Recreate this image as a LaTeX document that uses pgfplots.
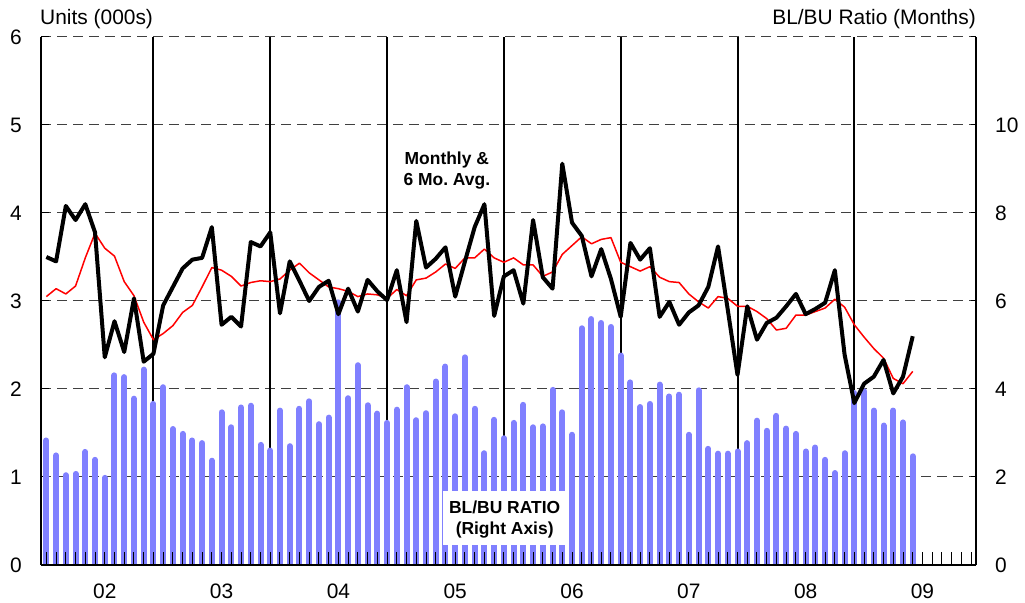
\documentclass[border=0pt]{standalone}
\usepackage{pgfplots}
\pgfplotsset{compat=1.18}
\usepackage{pgfplotstable}
\usepackage{fontspec}
\setmainfont{Liberation Sans}
\definecolor{barblue}{HTML}{8080FF}

\pgfplotstableread{
m v
0 3.50
1 3.45
2 4.08
3 3.92
4 4.10
5 3.78
6 2.36
7 2.77
8 2.42
9 3.03
10 2.31
11 2.40
12 2.95
13 3.16
14 3.37
15 3.47
16 3.49
17 3.84
18 2.73
19 2.82
20 2.71
21 3.67
22 3.62
23 3.78
24 2.86
25 3.45
26 3.23
27 3.00
28 3.16
29 3.23
30 2.85
31 3.14
32 2.88
33 3.24
34 3.11
35 3.01
36 3.35
37 2.76
38 3.91
39 3.38
40 3.48
41 3.61
42 3.05
43 3.45
44 3.84
45 4.10
46 2.83
47 3.28
48 3.35
49 2.97
50 3.92
51 3.27
52 3.14
53 4.56
54 3.89
55 3.74
56 3.28
57 3.59
58 3.25
59 2.82
60 3.66
61 3.47
62 3.60
63 2.82
64 2.99
65 2.73
66 2.87
67 2.95
68 3.16
69 3.62
70 2.90
71 2.16
72 2.94
73 2.56
74 2.75
75 2.81
76 2.94
77 3.08
78 2.85
79 2.91
80 2.98
81 3.35
82 2.39
83 1.84
84 2.06
85 2.14
86 2.33
87 1.95
88 2.14
89 2.60
}\monthly

\pgfplotstableread{
m v
0 3.05
1 3.14
2 3.08
3 3.17
4 3.49
5 3.77
6 3.60
7 3.51
8 3.22
9 3.06
10 2.76
11 2.56
12 2.63
13 2.72
14 2.87
15 2.95
16 3.16
17 3.38
18 3.35
19 3.28
20 3.17
21 3.21
22 3.23
23 3.22
24 3.25
25 3.35
26 3.43
27 3.32
28 3.24
29 3.16
30 3.14
31 3.11
32 3.05
33 3.08
34 3.07
35 3.03
36 3.13
37 3.06
38 3.24
39 3.26
40 3.33
41 3.42
42 3.37
43 3.49
44 3.49
45 3.59
46 3.49
47 3.44
48 3.49
49 3.41
50 3.41
51 3.28
52 3.33
53 3.53
54 3.63
55 3.73
56 3.65
57 3.70
58 3.72
59 3.44
60 3.39
61 3.34
62 3.39
63 3.27
64 3.22
65 3.21
66 3.08
67 2.99
68 2.92
69 3.05
70 3.03
71 2.94
72 2.94
73 2.88
74 2.80
75 2.67
76 2.69
77 2.84
78 2.84
79 2.88
80 2.92
81 3.02
82 2.93
83 2.73
84 2.59
85 2.46
86 2.35
87 2.12
88 2.06
89 2.20
}\avgsix

\pgfplotstableread{
m v
0 2.83
1 2.49
2 2.04
3 2.07
4 2.57
5 2.39
6 1.98
7 4.31
8 4.27
9 3.78
10 4.44
11 3.66
12 4.04
13 3.09
14 2.98
15 2.83
16 2.77
17 2.37
18 3.47
19 3.13
20 3.58
21 3.62
22 2.73
23 2.60
24 3.51
25 2.70
26 3.55
27 3.72
28 3.20
29 3.35
30 5.97
31 3.79
32 4.54
33 3.63
34 3.44
35 3.23
36 3.53
37 4.04
38 3.29
39 3.45
40 4.17
41 4.51
42 3.38
43 4.72
44 3.55
45 2.54
46 3.30
47 2.88
48 3.23
49 3.64
50 3.13
51 3.15
52 3.98
53 3.47
54 2.96
55 5.38
56 5.59
57 5.50
58 5.41
59 4.76
60 4.15
61 3.59
62 3.66
63 4.10
64 3.83
65 3.87
66 2.96
67 3.97
68 2.64
69 2.53
70 2.53
71 2.58
72 2.77
73 3.28
74 3.05
75 3.39
76 3.10
77 2.98
78 2.58
79 2.67
80 2.39
81 2.09
82 2.54
83 3.91
84 3.95
85 3.51
86 3.17
87 3.51
88 3.24
89 2.47
}\ratio

\pgfplotsset{
  base/.style={
    width=935bp, height=528bp, scale only axis,
    xmin=-0.55, xmax=95.5,
    /pgf/number format/assume math mode=true,
    tick label style={font=\fontsize{21}{25}\selectfont},
    axis line style={-},
  },
}

\begin{document}
\frenchspacing
\begin{tikzpicture}
% Layer A: grid, year separators, left ticks
\begin{axis}[base,
  ymin=0, ymax=6,
  axis line style={draw=none},
  xtick=\empty,
  ytick={0,1,...,6},
  ytick pos=left,
  tick align=inside,
  major tick length=8bp,
  tick style={black, line width=1bp},
  yticklabel style={anchor=east, inner sep=0pt, xshift=-19bp},
  ymajorgrids,
  major grid style={black!75, line width=1bp, dash pattern=on 10bp off 6bp},
  extra x ticks={11,23,35,47,59,71,83},
  extra x tick labels={},
  extra x tick style={grid=major, tick style={draw=none},
    major grid style={black, line width=2bp, solid}},
]
\end{axis}
% Layer B: bars on right axis
\begin{axis}[base,
  ymin=0, ymax=12,
  axis x line=none,
  axis y line=right,
  axis line style={-, black, line width=1.5bp},
  ytick={0,2,...,12},
  yticklabels={0,2,4,6,8,10,{}},
  tick align=inside,
  major tick length=5bp,
  tick style={black, line width=1bp},
  yticklabel style={anchor=west, inner sep=0pt, xshift=19bp},
]
\addplot[ycomb, draw=barblue, line width=6bp, line cap=round] table[x=m, y=v] {\ratio};
\fill[white] (axis cs:40.7,0.455) rectangle (axis cs:53.45,1.69);
\node[align=center, inner sep=0pt, font=\fontsize{17.5}{20.7}\selectfont\bfseries]
  at (axis cs:47.08,1.03) {BL/BU RATIO\\(Right Axis)};
\end{axis}
% Layer C: lines, bottom axis, left line
\begin{axis}[base,
  ymin=0, ymax=6,
  axis x line=bottom,
  axis y line=left,
  axis line style={-, black, line width=1.5bp},
  ytick=\empty,
  xtick={6,18,...,90},
  xticklabels={02,03,04,05,06,07,08,09},
  minor xtick={0,1,...,95},
  tick align=inside,
  major tick length=0pt,
  minor tick length=13bp,
  minor tick style={black, line width=1bp},
  xticklabel style={anchor=center, inner sep=0pt, yshift=-26.5bp},
]
\addplot[red, line width=1.5bp, line join=round] table[x=m, y=v] {\avgsix};
\addplot[black, line width=4bp, line join=round] table[x=m, y=v] {\monthly};
\node[align=center, inner sep=0pt, font=\fontsize{17.5}{20.7}\selectfont\bfseries]
  at (axis cs:41.14,4.48) {Monthly \&\\6 Mo. Avg.};
\end{axis}
\node[anchor=base west, inner sep=0pt, xshift=-1bp, yshift=12bp,
  font=\fontsize{21}{25}\selectfont] at (current axis.north west) {Units (000s)};
\node[anchor=base east, inner sep=0pt, yshift=12bp,
  font=\fontsize{21}{25}\selectfont] at (current axis.north east) {BL/BU Ratio (Months)};
\pgfresetboundingbox
\path[use as bounding box] ([shift={(-41bp,-38bp)}]current axis.south west)
  rectangle ([shift={(49bp,37bp)}]current axis.north east);
\end{tikzpicture}
\end{document}
